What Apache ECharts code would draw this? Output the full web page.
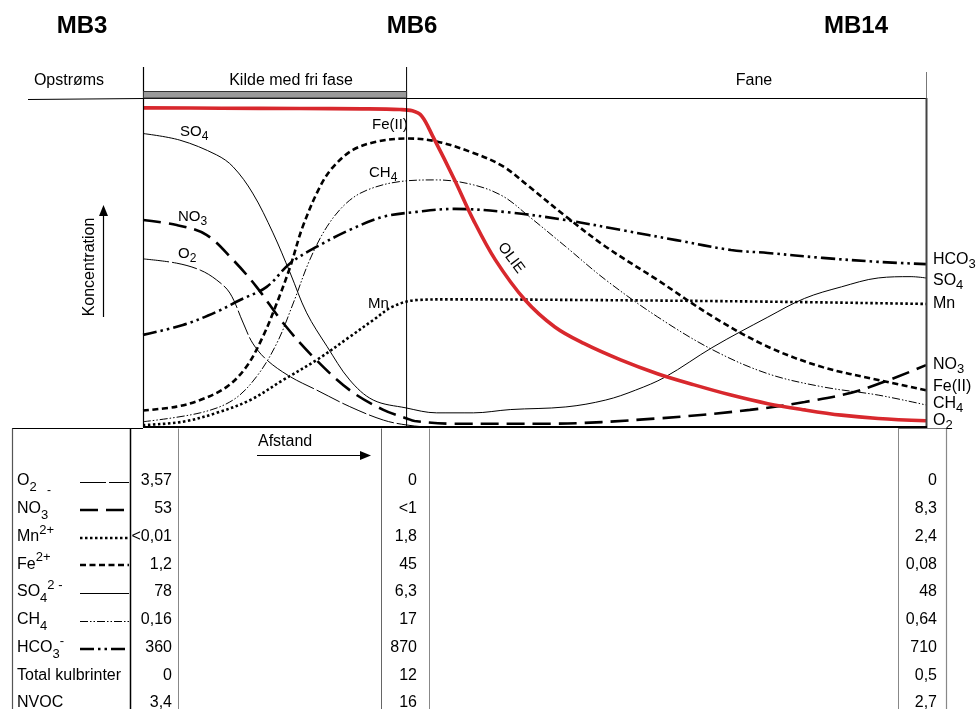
<!DOCTYPE html>
<html><head><meta charset="utf-8">
<script src="https://cdn.jsdelivr.net/npm/echarts@6/dist/echarts.min.js"></script>
<style>html,body{margin:0;padding:0;background:#fff}#c{width:977px;height:709px}</style>
</head><body><div id="c"></div>
<script>
// ---------- DATA ----------
const stations = ['MB3', 'MB6', 'MB14'];
const zones = ['Opstrøms', 'Kilde med fri fase', 'Fane'];
const mb6Distance = 33.6;   // position of MB6 along the distance axis (0-100)

// schematic concentration curves [distance, relative concentration]
const olieCurve = [[0,97],[10,96.9],[20,96.8],[28,96.7],[32.8,96.5],[34.4,96.1],[35.6,94.5],[37,88.4],[39.8,75.1],[42.2,62.9],[45,50.8],[48.8,38.6],[52.6,30.4],[56.3,25.4],[61,20.4],[65.7,16.2],[70.4,12.8],[75.1,9.7],[79.8,7.1],[84.5,5.2],[89.2,3.6],[93.9,2.6],[100,1.9]];
const so4Curve = [[0,89.2],[4.7,87.2],[9.4,82.7],[11.5,79.1],[14,71.1],[16.6,59],[18.8,46.8],[20.9,34.7],[23.5,24.5],[26.4,14.3],[29.4,8.2],[33.6,5.8],[37.5,4.3],[42.2,4.3],[46.9,5.3],[54,6.1],[59.1,8.2],[62.9,11.2],[66.7,15.2],[72.8,24.3],[79.8,33.4],[84.5,39.1],[89.2,42.6],[93.9,45.3],[98.1,45.7],[100,45.3]];
const no3Curve = [[0,62.9],[4.3,61.4],[8.1,58.4],[11.5,50.8],[14.5,42.6],[17.9,31.6],[21.7,21.4],[26.4,11.2],[30.7,5.2],[33.7,2.6],[34.7,1.8],[39.8,1.0],[51.6,1.0],[65.7,2.6],[77.5,5.2],[84.5,7.6],[91.6,11.2],[100,18.8]];
const o2Curve = [[0,51.1],[4.3,49.8],[7.3,47.7],[9.4,44.7],[11.1,40.7],[12.8,31.6],[14,25.5],[15.8,20.4],[18.8,15.3],[22.2,11.2],[26.4,6.2],[30.7,2.1],[33.7,0.6],[36.7,0],[60,0],[100,0]];
const feCurve = [[0,5.0],[4.3,6.2],[7.3,8.2],[10.7,12.2],[13.2,18.3],[15.3,27.4],[17.1,37.7],[18.8,48.7],[20.4,60.9],[22.6,73],[24.3,79.1],[26.8,84.2],[29.8,86.7],[33.7,87.7],[37.5,86.8],[42.2,83.3],[46,79.2],[49.3,73.1],[54,64],[59.1,54.8],[65.7,44.7],[72.8,33.5],[79.8,24.4],[86.8,18.2],[93.9,14.3],[100,11.2]];
const ch4Curve = [[0,1.6],[7.3,4.3],[11.5,8.2],[14.5,15.3],[17.1,25.5],[19.2,37.7],[21.3,50.8],[23.5,60.9],[26,68.1],[28.6,72],[32.8,74.6],[37.5,75.1],[42.2,73.6],[46,70.1],[49.3,64],[54,54.8],[59.1,44.7],[65.7,33.5],[72.8,23.4],[79.8,16.2],[86.8,12.2],[93.9,9.7],[100,6.7]];
const hco3Curve = [[0,28],[5.1,31],[9.4,35],[12.4,38.6],[15.8,42.6],[18.8,49.8],[22.2,54.8],[26.4,59.9],[30.7,63.9],[35,65.4],[39.8,66.3],[46.9,65.2],[54,62.9],[61,59.9],[68.1,56.8],[75.1,53.8],[79.8,52.9],[86.8,51.4],[93.9,50.2],[100,49.5]];
const mnCurve = [[0,0.6],[5.1,1.6],[9.4,4.3],[13.7,8.2],[17.9,14.3],[22.2,20.4],[26.4,27.4],[29.4,32.5],[31.9,36.6],[35,38.6],[39.2,38.8],[56.3,38.6],[79.8,38.1],[100,37.4]];

// table
const tableLabels = ['{b|O}{s|2}', '{b|NO}{s|3}', '{b|Mn}{p|2+}', '{b|Fe}{p|2+}', '{b|SO}{s|4}{p|2 -}', '{b|CH}{s|4}', '{b|HCO}{s|3}{p|-}', '{b|Total kulbrinter}', '{b|NVOC}'];
const mb3Values = ['3,57', '53', '<0,01', '1,2', '78', '0,16', '360', '0', '3,4'];
const mb6Values = ['0', '<1', '1,8', '45', '6,3', '17', '870', '12', '16'];
const mb14Values = ['0', '8,3', '2,4', '0,08', '48', '0,64', '710', '0,5', '2,7'];

// ---------- STYLES ----------
const F = '"Liberation Sans", Arial, sans-serif';
const RED = '#d8282d';
const curveStyles = {
  o2:   {width: 1,   type: [26, 3]},
  no3:  {width: 2.6, type: [18, 8]},
  mn:   {width: 2.6, type: [2.5, 2.5]},
  fe:   {width: 2.6, type: [6, 3.5]},
  so4:  {width: 1,   type: 'solid'},
  ch4:  {width: 1,   type: [8, 2, 1.5, 2, 1.5, 2]},
  hco3: {width: 2.6, type: [14, 4, 2.5, 4, 2.5, 4]}
};
const legendKeys = ['o2', 'no3', 'mn', 'fe', 'so4', 'ch4', 'hco3'];

const G = {left: 143, top: 98, width: 783, height: 329};
const px = x => G.left + x / 100 * G.width;

const chart = echarts.init(document.getElementById('c'), null, {renderer: 'canvas'});

function line(x1, y1, x2, y2, w, color, dash, z) {
  return {type: 'line', silent: true, z: z || 5, shape: {x1, y1, x2, y2},
    style: {stroke: color || '#000', lineWidth: w || 1, lineDash: dash || null, lineCap: 'butt'}};
}
const richBase = (fs, lh) => ({
  b: {fontSize: fs, fontFamily: F, lineHeight: lh, verticalAlign: 'middle', fill: '#000'},
  s: {fontSize: Math.round(fs * 0.8), fontFamily: F, verticalAlign: 'bottom', fill: '#000'},
  p: {fontSize: Math.round(fs * 0.8), fontFamily: F, verticalAlign: 'top', fill: '#000'}
});
function text(x, y, t, opt) {
  opt = opt || {};
  const st = {text: t, x: 0, y: 0, fill: '#000', font: (opt.weight || 'normal') + ' ' + (opt.size || 16) + 'px ' + F,
    align: opt.align || 'left', verticalAlign: 'middle'};
  if (opt.rich) st.rich = opt.rich;
  return {type: 'text', silent: true, z: 10, x: x, y: y, rotation: opt.rotation || 0, style: st};
}

const gr = [];
// station titles
const stationX = [82, px(mb6Distance) + 6, 856];
stations.forEach((s, i) => gr.push(text(stationX[i], 26, s, {size: 24, weight: 'bold', align: 'center'})));
// zone header
const zoneX = [69, 291, 754];
zones.forEach((z, i) => gr.push(text(zoneX[i], 80.5, z, {size: 16, align: 'center'})));
gr.push(line(G.left + 0.5, 67, G.left + 0.5, G.top + G.height, 1.2));
gr.push(line(px(mb6Distance) + 0.5, 67, px(mb6Distance) + 0.5, G.top + G.height, 1));
gr.push(line(G.left + G.width + 0.5, 72, G.left + G.width + 0.5, G.top, 1, '#777'));
gr.push({type: 'rect', silent: true, z: 6, shape: {x: G.left + 0.5, y: 91.5, width: px(mb6Distance) - G.left, height: 6.5},
  style: {fill: '#9a9a9a', stroke: '#333', lineWidth: 1}});
gr.push(line(28, 99.5, G.left, 98.5, 1.2));
gr.push(line(G.left, 98.5, G.left + G.width, 98.5, 1.2));
gr.push(line(G.left + G.width + 0.5, G.top, G.left + G.width + 0.5, G.top + G.height + 1, 2, '#444'));
gr.push(line(G.left, G.top + G.height, G.left + G.width + 1, G.top + G.height, 2.2, '#000', null, 7));

// axis titles
gr.push(text(90, 267, 'Koncentration', {size: 16, align: 'center', rotation: Math.PI / 2}));
gr.push(line(103.5, 317, 103.5, 214, 1.2));
gr.push({type: 'polygon', silent: true, z: 6, shape: {points: [[103.5, 205], [99, 216], [108, 216]]}, style: {fill: '#000'}});
gr.push(text(258, 442, 'Afstand', {size: 16}));
gr.push(line(257, 455.5, 362, 455.5, 1.2));
gr.push({type: 'polygon', silent: true, z: 6, shape: {points: [[371, 455.5], [360, 451], [360, 460]]}, style: {fill: '#000'}});

// in-plot labels
const r15 = richBase(15, 22);
gr.push(text(180, 132, '{b|SO}{s|4}', {rich: r15}));
gr.push(text(178, 217, '{b|NO}{s|3}', {rich: r15}));
gr.push(text(178, 254, '{b|O}{s|2}', {rich: r15}));
gr.push(text(372, 125, '{b|Fe(II)}', {rich: r15}));
gr.push(text(369, 173, '{b|CH}{s|4}', {rich: r15}));
gr.push(text(368, 304, '{b|Mn}', {rich: r15}));
gr.push(text(511, 258, 'OLIE', {size: 15, align: 'center', rotation: -53 * Math.PI / 180}));

// right labels
const r16 = richBase(16, 22);
const rightLabels = [['{b|HCO}{s|3}', 260], ['{b|SO}{s|4}', 281], ['{b|Mn}', 304], ['{b|NO}{s|3}', 365], ['{b|Fe(II)}', 387], ['{b|CH}{s|4}', 404], ['{b|O}{s|2}', 421]];
rightLabels.forEach(l => gr.push(text(933, l[1], l[0], {rich: r16})));

// table frame
const tTop = 428.5, tBot = 712;
gr.push(line(12, tTop, G.left, tTop, 1.2));
gr.push(line(898, tTop, 946, tTop, 1, '#777'));
[[12, '#555', 1.2], [130, '#000', 1.5], [178, '#888', 1], [381, '#666', 1], [429, '#888', 1], [898, '#888', 1], [946, '#888', 1.2]]
  .forEach(c => gr.push(line(c[0] + 0.5, tTop, c[0] + 0.5, tBot, c[2], c[1])));

// table rows
const rowY = i => 481 + i * 27.75;
const rT = richBase(16, 26);
tableLabels.forEach((lab, i) => {
  const y = rowY(i);
  gr.push(text(17, y, lab, {rich: rT}));
  gr.push(text(172, y, mb3Values[i], {size: 16, align: 'right'}));
  gr.push(text(417, y, mb6Values[i], {size: 16, align: 'right'}));
  gr.push(text(937, y, mb14Values[i], {size: 16, align: 'right'}));
  if (i < legendKeys.length) {
    const s = curveStyles[legendKeys[i]];
    const yy = Math.round(y) + (s.width < 2 ? 1.5 : 1);
    gr.push(line(80, yy, 129, yy, s.width, '#000', s.type === 'solid' ? null : s.type));
  }
});
gr.push(text(47, 491, '-', {size: 12}));

function curve(name, data, key, z) {
  const s = curveStyles[key];
  return {name, type: 'line', data, smooth: 0.35, symbol: 'none', z: z || 3,
    silent: true, lineStyle: {color: '#000', width: s.width, type: s.type, cap: 'butt'}};
}

chart.setOption({
  animation: false,
  backgroundColor: '#fff',
  grid: {left: G.left, top: G.top, width: G.width, height: G.height, show: false},
  xAxis: {type: 'value', min: 0, max: 100, show: false},
  yAxis: {type: 'value', min: 0, max: 100, show: false},
  series: [
    curve('O2', o2Curve, 'o2'),
    curve('NO3', no3Curve, 'no3'),
    curve('Mn', mnCurve, 'mn'),
    curve('Fe(II)', feCurve, 'fe'),
    curve('SO4', so4Curve, 'so4'),
    curve('CH4', ch4Curve, 'ch4'),
    curve('HCO3', hco3Curve, 'hco3'),
    {name: 'OLIE', type: 'line', data: olieCurve, smooth: 0.35, symbol: 'none', z: 4, silent: true,
      lineStyle: {color: RED, width: 3.6}}
  ],
  graphic: {elements: gr}
});
</script></body></html>
